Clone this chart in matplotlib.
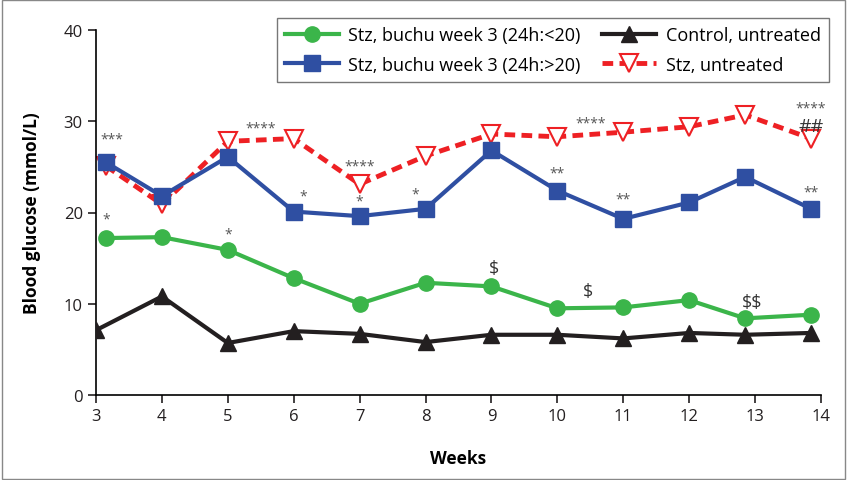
import matplotlib.pyplot as plt
from matplotlib.patches import Rectangle

plt.rcParams['font.family'] = ['Open Sans', 'DejaVu Sans']

# weeks (the x values)
weeks = [3.15, 4, 5, 6, 7, 8, 9, 10, 11, 12, 12.85, 13.85]
weeks_ctrl = [3, 4, 5, 6, 7, 8, 9, 10, 11, 12, 12.85, 13.85]

# blood glucose (mmol/L)
green_low = [17.2, 17.3, 15.9, 12.8, 10.0, 12.3, 11.9, 9.5, 9.6, 10.4, 8.4, 8.8]
blue_high = [25.5, 21.8, 26.1, 20.1, 19.6, 20.4, 26.8, 22.4, 19.3, 21.1, 23.9, 20.4]
control = [7.1, 10.8, 5.7, 7.0, 6.7, 5.8, 6.6, 6.6, 6.2, 6.8, 6.6, 6.8]
stz = [25.1, 20.9, 27.8, 28.1, 23.1, 26.2, 28.6, 28.3, 28.8, 29.4, 30.7, 28.1]

# significance marks: (x, y, text)
marks = [
    (3.24, 28.1, "***"), (3.15, 19.3, "*"), (5.0, 17.6, "*"),
    (5.5, 29.3, "****"), (6.15, 21.8, "*"), (7.0, 25.1, "****"),
    (7.0, 21.3, "*"), (7.85, 22.0, "*"), (10.0, 24.3, "**"),
    (10.5, 29.8, "****"), (11.0, 21.5, "**"), (13.85, 31.4, "****"),
    (13.85, 22.2, "**"),
]
dollar_marks = [(9.04, 13.9, r"\$"), (10.46, 11.4, r"\$"), (12.95, 10.2, r"\$\$")]

fig = plt.figure(figsize=(8.47, 4.81), dpi=100)
ax = fig.add_axes([96 / 847, 1 - 396 / 481, 725 / 847, 365 / 481])

green = '#3bb54a'
blue = '#2f4fa2'
red = '#ee2024'
black = '#231f20'

ax.plot(weeks, green_low, color=green, lw=3, marker='o', ms=11,
        label='Stz, buchu week 3 (24h:<20)', zorder=3)
ax.plot(weeks, blue_high, color=blue, lw=3, marker='s', ms=12,
        label='Stz, buchu week 3 (24h:>20)', zorder=3)
ax.plot(weeks_ctrl, control, color=black, lw=3, marker='^', ms=11,
        label='Control, untreated', zorder=3)
ax.plot(weeks, stz, color=red, lw=3.5, ls=(0, (2.2, 1.3)), marker='v', ms=13,
        mfc='white', mec=red, mew=1.5, label='Stz, untreated', zorder=2)

for x, y, t in marks:
    ax.text(x, y, t, ha='center', va='center', fontsize=10, color='#555555')
for x, y, t in dollar_marks:
    ax.text(x, y, t, ha='center', va='center', fontsize=13, color='#333333')
ax.text(13.85, 29.5, "##", ha='center', va='center', fontsize=14, color='#333333')

ax.set_xlim(3, 14)
ax.set_ylim(0, 40)
ax.set_xticks(range(3, 15))
ax.set_yticks([0, 10, 20, 30, 40])
ax.spines['top'].set_visible(False)
ax.spines['right'].set_visible(False)
ax.spines['left'].set_linewidth(1.2)
ax.spines['bottom'].set_linewidth(1.2)
ax.tick_params(direction='out', length=6, width=1.2, labelsize=12, colors='#231f20')
ax.set_xlabel('Weeks', fontsize=12.5, fontweight='bold', labelpad=18)
ax.set_ylabel('Blood glucose (mmol/L)', fontsize=12.5, fontweight='bold', labelpad=16)

leg = ax.legend(loc='upper right', ncol=2, bbox_to_anchor=(1.023, 1.058),
                fontsize=13, frameon=True, fancybox=False, edgecolor='#555555',
                handlelength=3.0, columnspacing=1.2, borderpad=0.45,
                labelspacing=0.65, handletextpad=0.5)
leg.get_frame().set_linewidth(1.0)

# outer border of the figure
fig.patches.append(Rectangle((0.002, 0.002), 0.996, 0.996, transform=fig.transFigure,
                             fill=False, edgecolor='#888888', lw=1.0))

fig.savefig('out.png', dpi=100)
